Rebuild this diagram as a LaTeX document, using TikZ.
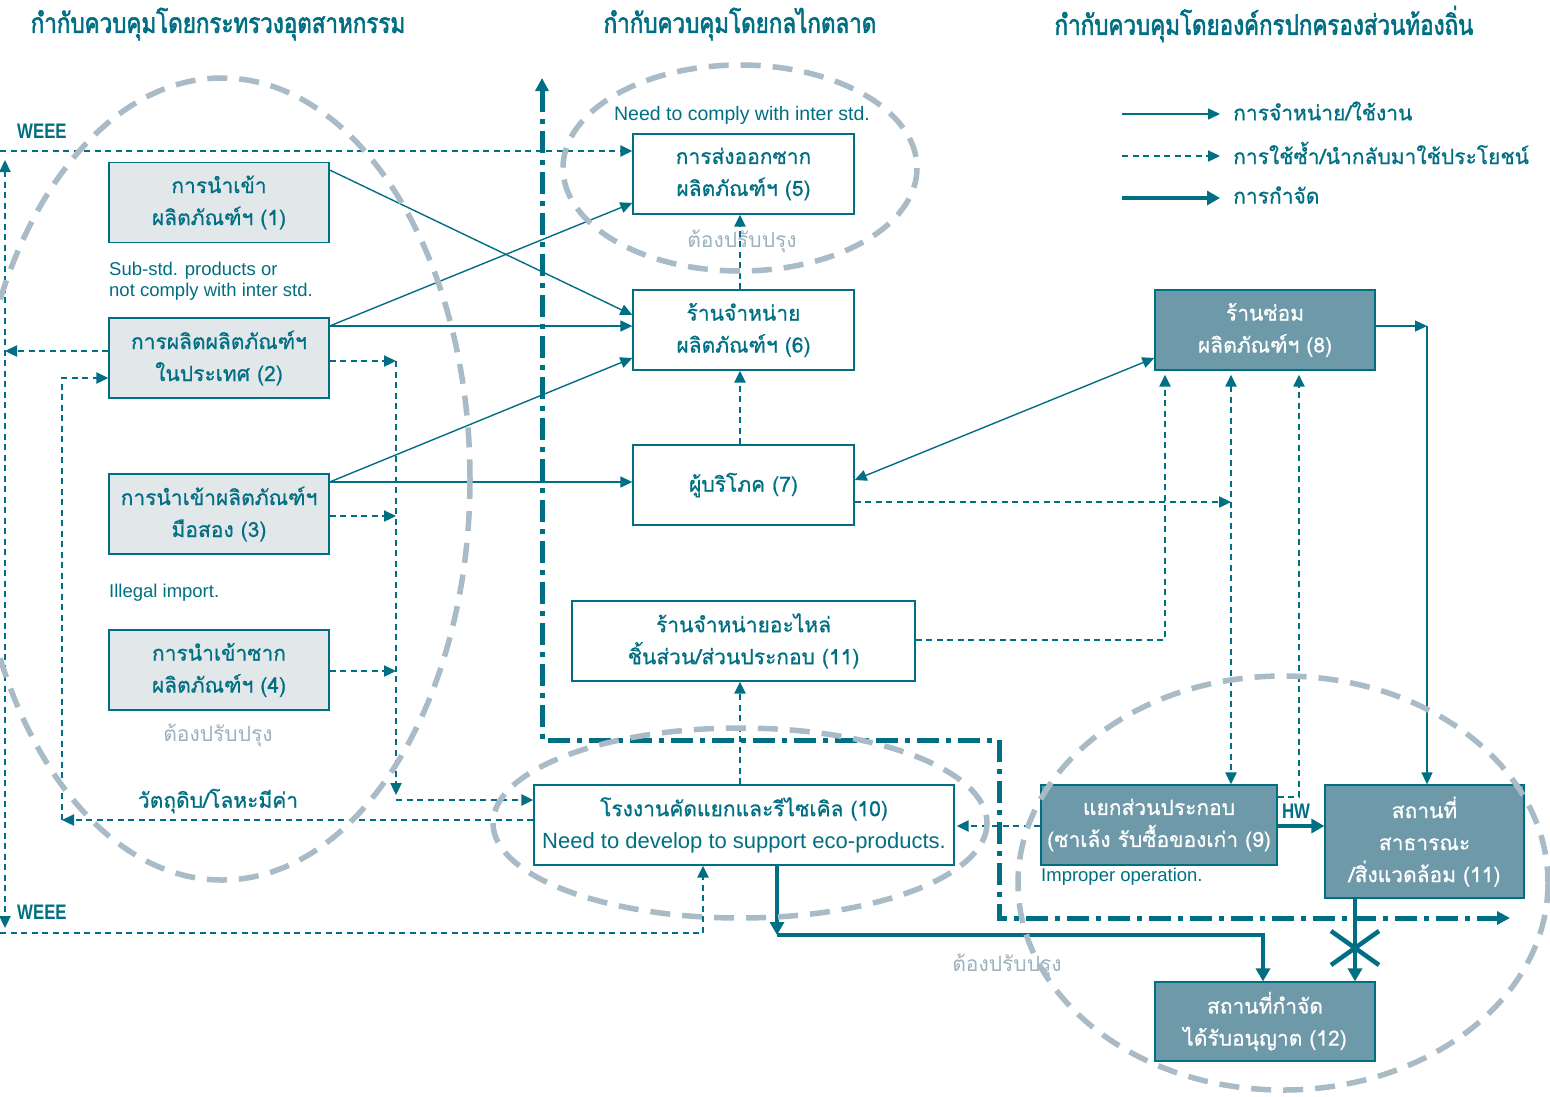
\documentclass[tikz,border=0pt]{standalone}
\usepackage{fontspec}
\setmainfont{Liberation Sans}
\newfontfamily\thai[Script=Thai,FakeBold=0.7]{Loma}
\newfontfamily\thailite[Script=Thai]{Loma}
\newfontfamily\thaihdr[Script=Thai,FakeStretch=0.8,FakeBold=2]{Loma}
\newfontfamily\en{Liberation Sans}
\newfontfamily\enc{Liberation Sans}[FakeStretch=0.8]
\usetikzlibrary{arrows.meta}

\definecolor{ink}{HTML}{006F83}
\definecolor{lightfill}{HTML}{E2E7EA}
\definecolor{darkfill}{HTML}{6E99A9}
\definecolor{ringgray}{HTML}{A8BBC6}
\definecolor{notegray}{HTML}{9DB2BE}

\begin{document}
\begin{tikzpicture}[x=1pt,y=-1pt,
  tip/.style={-{Triangle[length=12pt,width=11pt]}},
  twotip/.style={{Triangle[length=12pt,width=11pt]}-{Triangle[length=12pt,width=11pt]}},
  boxbase/.style={draw=ink,line width=1.3pt,inner sep=0pt,align=center,
    font=\thai\fontsize{21}{32}\selectfont},
  litebox/.style={boxbase,fill=lightfill,text=ink,minimum width=220pt,minimum height=80pt},
  whitebox/.style={boxbase,fill=white,text=ink,minimum height=80pt},
  darkbox/.style={boxbase,fill=darkfill,text=white,minimum height=80pt},
  hdr/.style={font=\thaihdr\fontsize{28}{30}\selectfont,text=ink},
  note/.style={font=\en\fontsize{18.5}{21}\selectfont,text=ink,align=left,inner sep=0pt},
  fix/.style={font=\thailite\fontsize{21}{24}\selectfont,text=notegray,inner sep=0pt},
  tag/.style={font=\enc\bfseries\fontsize{21}{24}\selectfont,text=ink,inner sep=0pt},
  legtxt/.style={font=\thai\fontsize{21}{24}\selectfont,text=ink,anchor=west,inner sep=0pt},
  sol/.style={draw=ink,line width=1.4pt,tip},
  dsh/.style={draw=ink,line width=2.3pt,dash pattern=on 6pt off 4.5pt,tip},
  thk/.style={draw=ink,line width=4.8pt,-{Triangle[length=13pt,width=14pt]}},
  dd/.style={draw=ink,line width=5pt,dash pattern=on 22pt off 7pt on 5pt off 7pt},
  ring/.style={draw=ringgray,line width=5.5pt,dash pattern=on 20pt off 12pt}
]
\useasboundingbox[fill=white] (0,0) rectangle (1550,1096);

% ---- column headings
\node[hdr] (h1) at (218,24) {กำกับควบคุมโดยกระทรวงอุตสาหกรรม};
\node[hdr] (h2) at (740,24) {กำกับควบคุมโดยกลไกตลาด};
\node[hdr] (h3) at (1264,24) {กำกับควบคุมโดยองค์กรปกครองส่วนท้องถิ่น};

% ---- boxes
\node[litebox] (b1) at (219,202.5) {การนำเข้า\\ผลิตภัณฑ์ฯ (1)};
\node[litebox] (b2) at (219,358) {การผลิตผลิตภัณฑ์ฯ\\ในประเทศ (2)};
\node[litebox] (b3) at (219,514) {การนำเข้าผลิตภัณฑ์ฯ\\มือสอง (3)};
\node[litebox] (b4) at (219,670) {การนำเข้าซาก\\ผลิตภัณฑ์ฯ (4)};

\node[whitebox,minimum width=221pt] (b5) at (743.5,174) {การส่งออกซาก\\ผลิตภัณฑ์ฯ (5)};
\node[whitebox,minimum width=221pt] (b6) at (743.5,330) {ร้านจำหน่าย\\ผลิตภัณฑ์ฯ (6)};
\node[whitebox,minimum width=221pt] (b7) at (743.5,485) {ผู้บริโภค (7)};
\node[whitebox,minimum width=343pt] (b11a) at (743.5,641) {ร้านจำหน่ายอะไหล่\\ชิ้นส่วน/ส่วนประกอบ (11)};
\node[whitebox,minimum width=420pt] (b10) at (744,825)
  {โรงงานคัดแยกและรีไซเคิล (10)\\{\en\fontsize{22}{32}\selectfont Need to develop to support eco-products.}};

\node[darkbox,minimum width=220pt] (b8) at (1265,330) {ร้านซ่อม\\ผลิตภัณฑ์ฯ (8)};
\node[darkbox,minimum width=236pt] (b9) at (1159,825) {แยกส่วนประกอบ\\(ซาเล้ง รับซื้อของเก่า (9)};
\node[darkbox,minimum width=199pt,minimum height=113pt] (b11b) at (1424.5,841.5) {สถานที่\\สาธารณะ\\/สิ่งแวดล้อม (11)};
\node[darkbox,minimum width=220pt,minimum height=79pt] (b12) at (1265,1021.5) {สถานที่กำจัด\\ได้รับอนุญาต (12)};

% ---- side notes
\node[note,anchor=west] (n1) at (109,281.5) {Sub-std. products or\\not comply with inter std.};
\node[note,anchor=west] (n2) at (109,593) {Illegal import.};
\node[note,anchor=center,font=\en\fontsize{19.5}{21}\selectfont] (n3) at (742,115) {Need to comply with inter std.};
\node[note,anchor=west] (n4) at (1041,877) {Improper operation.};
\node[fix] (f1) at (218,735) {ต้องปรับปรุง};
\node[fix] (f2) at (742,241) {ต้องปรับปรุง};
\node[fix] (f3) at (1007,965) {ต้องปรับปรุง};
\node[tag,anchor=west] (w1) at (17,131) {WEEE};
\node[tag,anchor=west] (w2) at (17,912) {WEEE};
\node[tag] (hwl) at (1296,811) {HW};
\node[font=\thai\fontsize{21}{24}\selectfont,text=ink] (raw) at (218,801) {วัตถุดิบ/โลหะมีค่า};

% ---- legend
\coordinate (l1a) at (1122,114); \coordinate (l1b) at (1220,114);
\coordinate (l2a) at (1122,156); \coordinate (l2b) at (1220,156);
\coordinate (l3a) at (1122,198); \coordinate (l3b) at (1220,198);
\draw[sol] (l1a) -- (l1b);
\draw[dsh] (l2a) -- (l2b);
\draw[thk] (l3a) -- (l3b);
\node[legtxt] (t1) at (1233,111) {การจำหน่าย/ใช้งาน};
\node[legtxt] (t2) at (1233,153) {การใช้ซ้ำ/นำกลับมาใช้ประโยชน์};
\node[legtxt] (t3) at (1233,195) {การกำจัด};

% ---- distribution / use
\draw[sol] (b1.north east |- 0,170) -- (b6.west |- 0,315);
\draw[sol] (b2.east |- 0,326) -- (b5.west |- 0,203);
\draw[sol] (b2.east |- 0,326) -- (b6.west |- 0,326);
\draw[sol] (b3.east |- 0,482) -- (b6.west |- 0,358);
\draw[sol] (b3.east |- 0,482) -- (b7.west |- 0,482);
\draw[sol,twotip] (b7.east |- 0,480) -- (b8.west |- 0,358);
\coordinate (r1) at (1427,326);
\draw[sol] (b8.east |- r1) -- (r1);
\draw[sol] (r1) -- (b11b.north -| r1);

% ---- reuse / recovery
\coordinate (wT) at (5,160);
\coordinate (wB) at (5,928);
\coordinate (wM) at (5,351);
\coordinate (wTL) at (0,151);
\coordinate (wBL) at (0,933);
\coordinate (w10) at (703,933);
\draw[dsh] (b2.west |- wM) -- (wM);
\draw[dsh,twotip] (wT) -- (wB);
\draw[dsh] (wTL) -- (b5.west |- wTL);
\draw[dsh] (wBL) -- (w10) -- (w10 |- b10.south);

\coordinate (bus2) at (396,361);
\coordinate (bus3) at (396,516);
\coordinate (bus4) at (396,671);
\coordinate (busE) at (396,795);
\coordinate (busB) at (396,800);
\draw[dsh] (b2.east |- bus2) -- (bus2);
\draw[dsh] (b3.east |- bus3) -- (bus3);
\draw[dsh] (b4.east |- bus4) -- (bus4);
\draw[dsh] (bus2) -- (busE);
\draw[dsh] (busB) -- (b10.west |- busB);

\coordinate (rl) at (62,820);
\coordinate (rt) at (62,378);
\draw[dsh] (b10.west |- rl) -- (rl);
\draw[dsh] (rl) -- (rt) -- (b2.west |- rt);

\draw[dsh] (b6.north -| 740,0) -- (b5.south -| 740,0);
\draw[dsh] (b7.north -| 740,0) -- (b6.south -| 740,0);
\draw[dsh] (b10.north -| 740,0) -- (b11a.south -| 740,0);

\coordinate (x9) at (1231,502);
\draw[dsh] (b7.east |- x9) -- (x9);
\draw[dsh,twotip] ([yshift=-4pt]b8.south -| x9) -- (b9.north -| x9);
\coordinate (p11) at (1165,640);
\draw[dsh] (b11a.east |- p11) -- (p11) -- ([yshift=-4pt]b8.south -| p11);
\coordinate (hw) at (1299,797);
\draw[dsh] (b9.east |- hw) -- (hw) -- ([yshift=-4pt]b8.south -| hw);
\draw[dsh] (b9.west |- 0,826) -- ([xshift=2pt]b10.east |- 0,826);

% ---- disposal
\coordinate (d1) at (777,935);
\coordinate (d2) at (1263,935);
\draw[thk] (b10.south -| d1) -- (d1);
\draw[thk] (d1) -- (d2) -- (b12.north -| d2);
\draw[thk] (b9.east |- 0,826) -- (b11b.west |- 0,826);
\draw[thk] (b11b.south -| 1355,0) -- (b12.north -| 1355,0);
\draw[draw=ink,line width=4.5pt] (1331,931) -- (1379,965) (1331,965) -- (1379,931);

% ---- control boundary
\coordinate (cb1) at (542,78);
\coordinate (cb2) at (542,740);
\coordinate (cb3) at (999,740);
\coordinate (cb4) at (999,918);
\coordinate (cb5) at (1510,918);
\draw[dd,{Triangle[length=13pt,width=13pt]}-{Triangle[length=13pt,width=13pt]}]
  (cb1) -- (cb2) -- (cb3) -- (cb4) -- (cb5);

% ---- improvement zones
\draw[ring] (222,479) ellipse [x radius=248, y radius=401];
\draw[ring] (740,168) ellipse [x radius=177, y radius=103];
\draw[ring] (740,823) ellipse [x radius=247, y radius=95];
\draw[ring] (1283,883) ellipse [x radius=265, y radius=207];
\end{tikzpicture}
\end{document}
